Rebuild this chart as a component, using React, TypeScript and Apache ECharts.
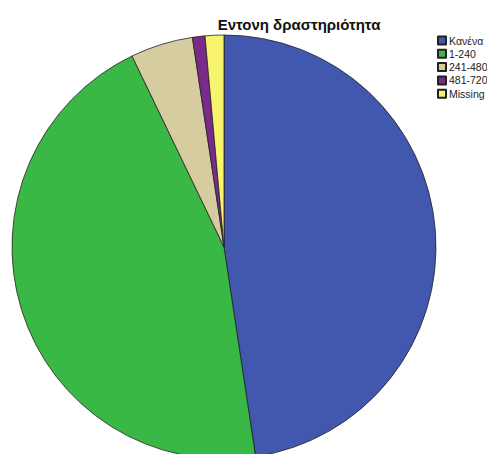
import React, { useEffect, useRef } from "react";
import * as echarts from "echarts";

const title = "Εντονη δραστηριότητα";
const categories = ["Κανένα", "1-240", "241-480", "481-720", "Missing"];
const values = [100, 95, 10, 2, 3];
const colors = ["#4257AE", "#3AB846", "#D5CD9F", "#7A2A88", "#F9F46E"];

export default function App() {
  const ref = useRef<HTMLDivElement>(null);
  useEffect(() => {
    if (!ref.current) return;
    const chart = echarts.init(ref.current, null, { renderer: "svg" });
    chart.setOption({
      animation: false,
      backgroundColor: "#ffffff",
      title: {
        text: title,
        left: 294,
        top: 12,
        textAlign: "center",
        textStyle: { fontFamily: "Liberation Sans, Arial, sans-serif", fontSize: 15, fontWeight: "bold", color: "#111" },
      },
      legend: {
        orient: "vertical",
        left: 432,
        top: 30,
        icon: "rect",
        itemWidth: 8,
        itemHeight: 8,
        itemGap: 2.3,
        data: categories,
        textStyle: { fontFamily: "Liberation Sans, Arial, sans-serif", fontSize: 10.5, color: "#222", padding: [0, 0, 0, -2] },
      },
      series: [
        {
          type: "pie",
          center: [224, 247],
          radius: 212,
          startAngle: 90,
          clockwise: true,
          label: { show: false },
          labelLine: { show: false },
          emphasis: { disabled: true },
          itemStyle: { borderColor: "#222", borderWidth: 0.8 },
          data: categories.map((c, i) => ({ name: c, value: values[i], itemStyle: { color: colors[i] } })),
        },
      ],
    });
    return () => chart.dispose();
  }, []);
  return <div ref={ref} style={{ position: "absolute", left: 0, top: 0, width: 487, height: 454 }} />;
}
